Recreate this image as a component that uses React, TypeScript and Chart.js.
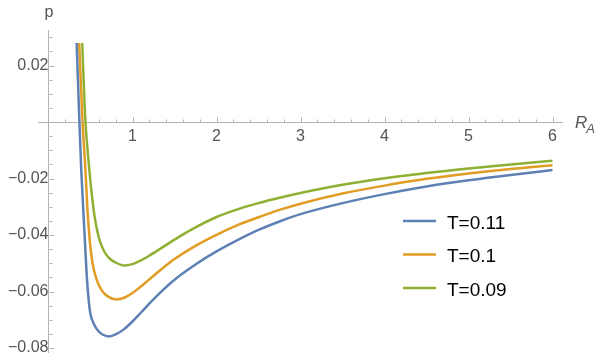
import React, { useEffect, useRef } from "react";
import { Chart, registerables } from "chart.js";

Chart.register(...registerables);

// ---- data ----
const seriesLabels = ["T=0.11", "T=0.1", "T=0.09"];
const seriesColors = ["#5E81B5", "#E19C24", "#8FB032"];

const t011X = [0.335, 0.368, 0.39, 0.433, 0.455, 0.478, 0.5, 0.536, 0.583, 0.643, 0.72, 0.8, 0.9, 1.0, 1.1, 1.2, 1.333, 1.5, 1.75, 2.0, 2.25, 2.5, 2.75, 3.0, 3.5, 4.0, 4.5, 5.0, 5.5, 6.0];
const t011Y = [0.028, 0.0, -0.017, -0.0418, -0.0542, -0.063, -0.068, -0.0712, -0.0736, -0.0752, -0.0759, -0.0752, -0.0733, -0.0706, -0.0675, -0.0643, -0.0603, -0.0558, -0.0504, -0.0458, -0.0418, -0.0382, -0.0352, -0.0326, -0.0287, -0.0255, -0.0228, -0.0206, -0.0187, -0.017];

const t010X = [0.365, 0.405, 0.44, 0.464, 0.494, 0.524, 0.571, 0.631, 0.714, 0.81, 0.9, 1.0, 1.1, 1.2, 1.333, 1.5, 1.75, 2.0, 2.25, 2.5, 2.75, 3.0, 3.5, 4.0, 4.5, 5.0, 5.5, 6.0];
const t010Y = [0.028, 0.0, -0.017, -0.0312, -0.0428, -0.0499, -0.0556, -0.0595, -0.0619, -0.0628, -0.0622, -0.0605, -0.0582, -0.0557, -0.0524, -0.0485, -0.0438, -0.0399, -0.0365, -0.0337, -0.0311, -0.0289, -0.0253, -0.0225, -0.0201, -0.0182, -0.0166, -0.0153];

const t009X = [0.401, 0.44, 0.476, 0.512, 0.548, 0.583, 0.619, 0.667, 0.726, 0.798, 0.905, 1.0, 1.1, 1.2, 1.333, 1.5, 1.75, 2.0, 2.25, 2.5, 2.75, 3.0, 3.5, 4.0, 4.5, 5.0, 5.5, 6.0];
const t009Y = [0.028, 0.0, -0.0135, -0.0248, -0.0333, -0.0389, -0.0428, -0.046, -0.0483, -0.0497, -0.0508, -0.0503, -0.049, -0.0473, -0.0448, -0.0416, -0.0373, -0.0336, -0.0309, -0.0287, -0.0268, -0.0251, -0.0222, -0.0199, -0.018, -0.0164, -0.015, -0.0137];

const xTickValues = [1, 2, 3, 4, 5, 6];
const yTickValues = [0.02, -0.02, -0.04, -0.06, -0.08];
const xAxisTitle = "R";
const xAxisTitleSub = "A";
const yAxisTitle = "p";

const AXIS_COLOR = "#b3b3b3";
const LABEL_COLOR = "#555555";
const FONT = "'Liberation Sans', Arial, sans-serif";

const toPoints = (xs: number[], ys: number[]) => xs.map((x, i) => ({ x, y: ys[i] }));
const seriesPoints = [toPoints(t011X, t011Y), toPoints(t010X, t010Y), toPoints(t009X, t009Y)];

const fmtY = (v: number) => (v < 0 ? "\u2212" : "") + Math.abs(v).toFixed(2);

const decorPlugin = {
  id: "decor",
  afterDraw(chart: any) {
    const { ctx, scales } = chart;
    const xs = scales.x;
    const ys = scales.y;
    const x0 = xs.getPixelForValue(0);
    const y0 = ys.getPixelForValue(0);
    ctx.save();
    ctx.strokeStyle = AXIS_COLOR;
    ctx.lineWidth = 1;
    // x tick marks (inward, above the axis)
    const xStep = 0.2;
    for (let i = Math.ceil(xs.min / xStep); i <= Math.floor(xs.max / xStep + 1e-9); i++) {
      if (i === 0) continue;
      const px = Math.round(xs.getPixelForValue(i * xStep)) + 0.5;
      const len = i % 5 === 0 ? 5 : 3;
      ctx.beginPath();
      ctx.moveTo(px, Math.round(y0) + 0.5);
      ctx.lineTo(px, Math.round(y0) + 0.5 - len);
      ctx.stroke();
    }
    // y tick marks (inward, right of the axis)
    const yStep = 0.005;
    for (let i = Math.ceil(ys.min / yStep - 1e-9); i <= Math.floor(ys.max / yStep + 1e-9); i++) {
      if (i === 0) continue;
      const py = Math.round(ys.getPixelForValue(i * yStep)) + 0.5;
      const len = i % 4 === 0 ? 5 : 3;
      ctx.beginPath();
      ctx.moveTo(Math.round(x0) + 0.5, py);
      ctx.lineTo(Math.round(x0) + 0.5 + len, py);
      ctx.stroke();
    }
    // axis titles
    ctx.fillStyle = LABEL_COLOR;
    ctx.textBaseline = "alphabetic";
    ctx.textAlign = "center";
    ctx.font = `16px ${FONT}`;
    ctx.fillText(yAxisTitle, x0 + 0.5, 17);
    ctx.textAlign = "left";
    ctx.font = `italic 17px ${FONT}`;
    const rx = xs.right + 13;
    ctx.fillText(xAxisTitle, rx, y0 + 5.5);
    const rw = ctx.measureText(xAxisTitle).width;
    ctx.font = `italic 13px ${FONT}`;
    ctx.fillText(xAxisTitleSub, rx + rw - 1, y0 + 11);
    // legend
    const rows = [221, 254.5, 288];
    const lx = 403;
    chart.data.datasets.forEach((ds: any, i: number) => {
      const yy = rows[i];
      ctx.strokeStyle = ds.borderColor;
      ctx.lineWidth = 2.5;
      ctx.beginPath();
      ctx.moveTo(lx, yy);
      ctx.lineTo(lx + 33, yy);
      ctx.stroke();
      ctx.fillStyle = "#000000";
      ctx.font = `19px ${FONT}`;
      ctx.textAlign = "left";
      ctx.textBaseline = "alphabetic";
      ctx.fillText(ds.label, lx + 44, yy + 7.5);
    });
    ctx.restore();
  },
};

function PlotChart() {
  const ref = useRef<HTMLCanvasElement | null>(null);
  useEffect(() => {
    if (!ref.current) return;
    const noPad = (s: any) => {
      s.paddingLeft = 0;
      s.paddingRight = 0;
      s.paddingTop = 0;
      s.paddingBottom = 0;
    };
    const chart = new Chart(ref.current, {
      type: "line",
      data: {
        datasets: seriesLabels.map((label, i) => ({
          label,
          data: seriesPoints[i],
          borderColor: seriesColors[i],
          backgroundColor: seriesColors[i],
          borderWidth: 2.5,
          pointRadius: 0,
          cubicInterpolationMode: "monotone" as const,
          fill: false,
        })),
      },
      options: {
        animation: false,
        responsive: false,
        maintainAspectRatio: false,
        devicePixelRatio: 1,
        layout: { padding: { left: 38, right: 38, top: 30, bottom: 8 } },
        plugins: { legend: { display: false }, tooltip: { enabled: false } },
        scales: {
          x: {
            type: "linear",
            position: { y: 0 } as any,
            min: -0.125,
            max: 6.113,
            grid: { display: false, drawTicks: false },
            border: { display: true, color: AXIS_COLOR, width: 1 },
            afterBuildTicks: (s: any) => {
              s.ticks = xTickValues.map((v) => ({ value: v }));
            },
            afterFit: noPad,
            ticks: {
              color: LABEL_COLOR,
              font: { size: 16, family: FONT },
              padding: 5,
              maxRotation: 0,
              autoSkip: false,
              callback: (v: any) => String(v),
            },
          },
          y: {
            type: "linear",
            position: { x: 0 } as any,
            min: -0.0814,
            max: 0.0326,
            grid: { display: false, drawTicks: false },
            border: { display: true, color: AXIS_COLOR, width: 1 },
            afterBuildTicks: (s: any) => {
              s.ticks = yTickValues.map((v) => ({ value: v }));
            },
            afterFit: noPad,
            ticks: {
              color: LABEL_COLOR,
              font: { size: 16, family: FONT },
              padding: 5,
              autoSkip: false,
              callback: (v: any) => fmtY(Number(v)),
            },
          },
        },
      },
      plugins: [decorPlugin],
    });
    return () => chart.destroy();
  }, []);
  return <canvas ref={ref} width={600} height={360} style={{ display: "block" }} />;
}

export default function App() {
  return (
    <div style={{ position: "absolute", left: 0, top: 0, width: 600, height: 360, background: "#ffffff" }}>
      <PlotChart />
    </div>
  );
}
